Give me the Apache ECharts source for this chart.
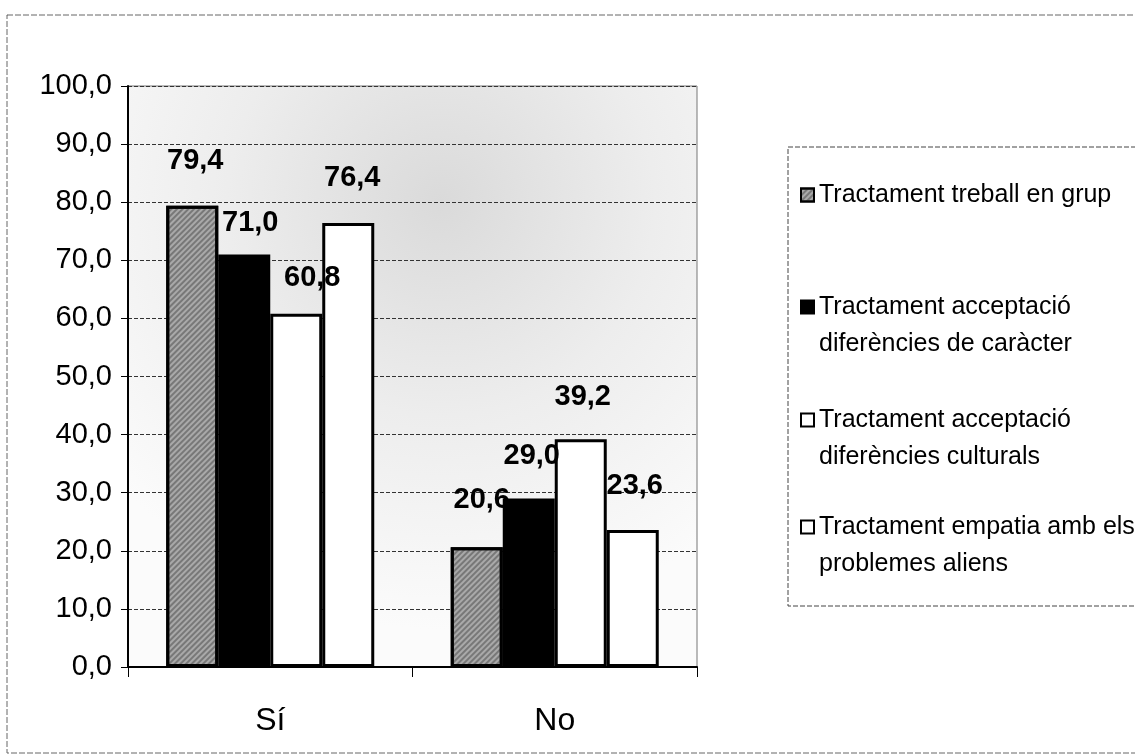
<!DOCTYPE html>
<html>
<head>
<meta charset="utf-8">
<script src="https://cdn.jsdelivr.net/npm/echarts@6/dist/echarts.min.js"></script>
<style>
html,body{margin:0;padding:0;background:#fff;}
#chart{width:1135px;height:755px;}
</style>
</head>
<body>
<div id="chart"></div>
<script>
const categories = ['Sí', 'No'];
const seriesNames = [
  'Tractament treball en grup',
  'Tractament acceptació diferències de caràcter',
  'Tractament acceptació diferències culturals',
  'Tractament empatia amb els problemes aliens'
];
const legendLines = [
  ['Tractament treball en grup'],
  ['Tractament acceptació', 'diferències de caràcter'],
  ['Tractament acceptació', 'diferències culturals'],
  ['Tractament empatia amb els', 'problemes aliens']
];
const valuesTreball = [79.4, 20.6];
const valuesCaracter = [71.0, 29.0];
const valuesCulturals = [60.8, 39.2];
const valuesEmpatia = [76.4, 23.6];
const yMin = 0, yMax = 100, yInterval = 10;

// label nudges (style only), per series per category
const labelNudge = [
  [[3, -25], [5, -28]],
  [[6, -12], [3, -23]],
  [[16, -16], [2, -23]],
  [[4, -26], [2, -24]]
];

const allValues = [valuesTreball, valuesCaracter, valuesCulturals, valuesEmpatia];
const fills = ['#a9a9a9', '#000000', '#ffffff', '#ffffff'];
const FONT = "'Liberation Sans Narrow', 'Liberation Sans', Arial, sans-serif";
const fmt = v => v.toFixed(1).replace('.', ',');

const chart = echarts.init(document.getElementById('chart'), null, {renderer: 'canvas'});

const series = allValues.map((vals, i) => {
  const itemStyle = {color: fills[i], borderColor: '#000', borderWidth: 3};
  if (i === 0) {
    itemStyle.decal = {
      symbol: 'rect', symbolSize: 1,
      dashArrayX: [[1, 0]], dashArrayY: [2, 2],
      rotation: -Math.PI / 4, color: 'rgba(60,60,60,0.45)'
    };
  }
  return {
    name: seriesNames[i],
    type: 'bar',
    barWidth: 52,
    barGap: '0%',
    barCategoryGap: '26%',
    itemStyle: itemStyle,
    data: vals.map((v, j) => ({
      value: v,
      label: {offset: labelNudge[i][j]}
    })),
    label: {
      show: true,
      position: 'top',
      distance: 5,
      formatter: p => fmt(p.value),
      fontFamily: FONT,
      fontWeight: 'bold',
      fontSize: 29,
      color: '#000'
    }
  };
});

// legends: one per item for exact placement
const legendFirstLineY = [190, 302, 415, 522];
const LH = 37;
const legends = seriesNames.map((name, i) => {
  const two = legendLines[i].length > 1;
  return {
    data: [name],
    left: 795,
    top: legendFirstLineY[i] - LH / 2,
    orient: 'vertical',
    itemWidth: 13,
    itemHeight: two ? LH + 13 : 13,
    itemGap: 0,
    icon: two ? 'path://M0,0L13,0L13,13L0,13Z M0,50L0.001,50' : 'rect',
    itemStyle: {borderColor: '#000', borderWidth: 2},
    selectedMode: false,
    formatter: n => legendLines[seriesNames.indexOf(n)].join('\n'),
    textStyle: {fontFamily: FONT, fontSize: 25, lineHeight: LH, color: '#000'}
  };
});

const option = {
  animation: false,
  backgroundColor: '#fff',
  grid: {
    left: 128, right: 438, top: 86, bottom: 88,
    show: true,
    borderColor: '#777',
    borderWidth: 1,
    backgroundColor: new echarts.graphic.RadialGradient(0.55, 0.2, 0.75, [
      {offset: 0, color: '#dadada'},
      {offset: 0.5, color: '#ededed'},
      {offset: 1, color: '#fbfbfb'}
    ])
  },
  xAxis: {
    type: 'category',
    data: categories,
    axisLine: {lineStyle: {color: '#000', width: 2}},
    axisTick: {show: true, length: 10, lineStyle: {color: '#000', width: 1}},
    axisLabel: {fontFamily: FONT, fontSize: 32, color: '#000', margin: 38}
  },
  yAxis: {
    type: 'value',
    min: yMin, max: yMax, interval: yInterval,
    axisLine: {show: true, lineStyle: {color: '#000', width: 2}},
    axisTick: {show: true, length: 7, lineStyle: {color: '#000'}},
    axisLabel: {fontFamily: FONT, fontSize: 29, color: '#000', margin: 16, formatter: v => fmt(v)},
    splitLine: {show: true, lineStyle: {color: '#333', width: 1, type: [4, 2]}}
  },
  legend: legends,
  graphic: [
    {type: 'rect', shape: {x: 7, y: 15, width: 1140, height: 738}, style: {fill: 'none', stroke: '#666', lineWidth: 1, lineDash: [6, 2]}, silent: true, z: -1},
    {type: 'rect', shape: {x: 788, y: 147, width: 360, height: 459}, style: {fill: 'none', stroke: '#444', lineWidth: 1, lineDash: [5, 2]}, silent: true, z: -1}
  ],
  series: series
};
chart.setOption(option);
</script>
</body>
</html>
